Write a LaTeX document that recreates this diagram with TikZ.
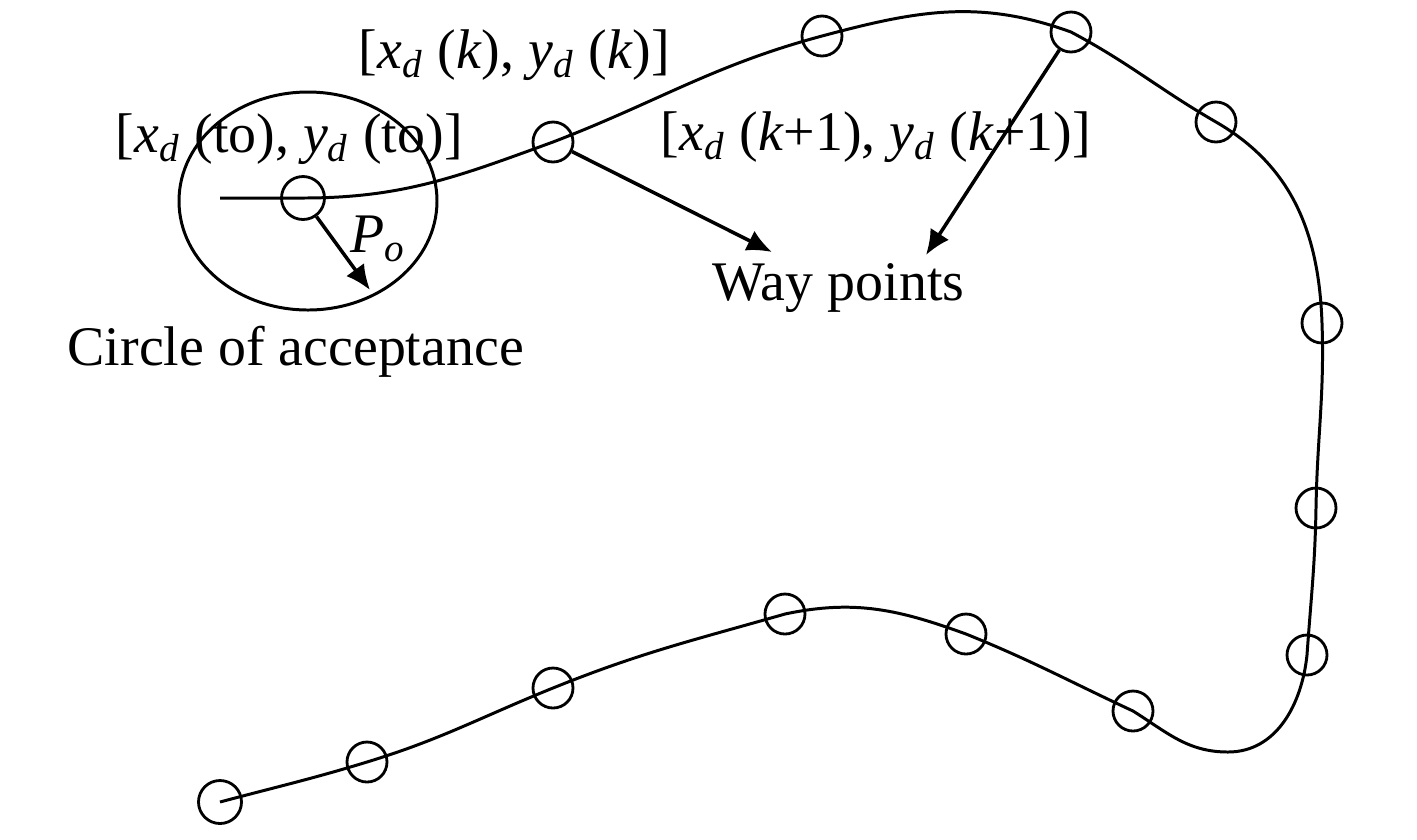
\documentclass[tikz,border=0pt]{standalone}
\usepackage{fontspec}
\setmainfont{Liberation Serif}
\usetikzlibrary{arrows.meta}
\newcommand{\wpcoord}[1]{[\textit{x}\textsubscript{\textit{d}} (#1), \textit{y}\textsubscript{\textit{d}} (#1)]}

\begin{document}
\begin{tikzpicture}[
                    wp/.style={draw, circle, line width=0.8pt, inner sep=0, minimum size=4mm},
                    lbl/.style={anchor=base west, inner sep=0, font=\fontsize{15.9}{19}\selectfont},
                    arr/.style={-{Latex[length=2.5mm,width=2.2mm]}, line width=1pt}]
                \useasboundingbox (0,0) rectangle (14.17,-8.39);
                % way points, from the start of the track to its end
                \node [wp, minimum size=4.3mm] (w0) at (2.20,-8.02) {};
                \node [wp] (w1) at (3.67,-7.62) {};
                \node [wp] (w2) at (5.53,-6.88) {};
                \node [wp] (w3) at (7.85,-6.14) {};
                \node [wp] (w4) at (9.66,-6.34) {};
                \node [wp] (w5) at (11.33,-7.11) {};
                \node [wp] (w6) at (13.07,-6.55) {};
                \node [wp] (w7) at (13.16,-5.08) {};
                \node [wp] (w8) at (13.22,-3.23) {};
                \node [wp] (w9) at (12.16,-1.22) {};
                \node [wp] (w10) at (10.71,-0.32) {};
                \node [wp] (w11) at (8.22,-0.36) {};
                \node [wp] (w12) at (5.53,-1.42) {};
                \node [wp, minimum size=4.3mm] (w13) at (3.03,-1.98) {};
                \coordinate (s) at (2.20,-1.98);
                \coordinate (b) at (12.28,-7.52);

                % track
                \draw [line width=0.85pt] (s) to[out=0, in=180] (w13.center)
                    to[out=0, in=200] (w12.center)
                    to[out=21, in=195] (w11.center)
                    to[out=15, in=160] (w10.center)
                    to[out=-28, in=150] (w9.center)
                    to[out=-30, in=92] (w8.center)
                    to[out=-88, in=89] (w7.center)
                    to[out=-91, in=86] (w6.center)
                    to[out=-96, in=0] (b)
                    to[out=180, in=-32] (w5.center)
                    to[out=155, in=-22] (w4.center)
                    to[out=160, in=12] (w3.center)
                    to[out=196, in=22] (w2.center)
                    to[out=202, in=17] (w1.center)
                    to[out=197, in=15] (w0.center);

                % circle of acceptance
                \draw [line width=0.85pt] (3.08,-2.01) ellipse [x radius=1.29, y radius=1.09];

                \coordinate (t1) at (3.70,-2.90);
                \coordinate (t2) at (7.72,-2.52);
                \coordinate (t3) at (9.26,-2.55);
                \draw [arr] (w13) -- (t1);
                \draw [arr] (w12) -- (t2);
                \draw [arr] (w10) -- (t3);

                \node [lbl] (lk) at (3.58,-0.68) {\wpcoord{\textit{k}}};
                \node [lbl] (lto) at (1.15,-1.52) {\wpcoord{to}};
                \node [lbl] (lk1) at (6.60,-1.50) {\wpcoord{\textit{k}+1}};
                \node [lbl] (lpo) at (3.50,-2.52) {\textit{P}\textsubscript{\textit{o}}};
                \node [lbl] (lway) at (7.12,-3.00) {Way points};
                \node [lbl] (lcoa) at (0.67,-3.65) {Circle of acceptance};
            \end{tikzpicture}
\end{document}
